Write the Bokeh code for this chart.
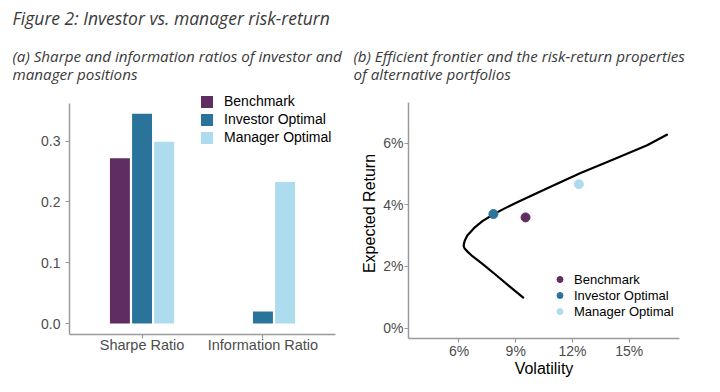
from bokeh.plotting import figure
from bokeh.layouts import row, column
from bokeh.models import (FactorRange, Range1d, FixedTicker, NumeralTickFormatter,
                          PrintfTickFormatter, Legend, LegendItem, Label, ColumnDataSource)
from bokeh.transform import dodge
from bokeh.embed import file_html
from bokeh.resources import INLINE

# ---------------- data ----------------
metrics = ["Sharpe Ratio", "Information Ratio"]
portfolios = ["Benchmark", "Investor Optimal", "Manager Optimal"]
colors = ["#5f2d61", "#2a749c", "#acdcee"]
benchmark_vals = [0.272, 0.0]
investor_vals = [0.345, 0.020]
manager_vals = [0.299, 0.233]

frontier_vol = [9.43, 8.64, 7.94, 7.24, 6.71, 6.45, 6.31, 6.25, 6.26, 6.31, 6.44, 6.79, 7.24, 7.85,
                8.47, 9.08, 10.67, 12.43, 14.19, 15.95, 17.04]
frontier_ret = [0.97, 1.37, 1.73, 2.08, 2.33, 2.48, 2.57, 2.65, 2.73, 2.84, 3.00, 3.24, 3.47, 3.70,
                3.90, 4.08, 4.54, 5.03, 5.48, 5.93, 6.29]
point_vol = [9.52, 7.82, 12.34]
point_ret = [3.59, 3.70, 4.67]

y1_ticks = [0.0, 0.1, 0.2, 0.3]
y1_lim = (-0.018, 0.362)
x2_ticks = [6, 9, 12, 15]
y2_ticks = [0, 2, 4, 6]
x2_lim = (3.33, 17.66)
y2_lim = (-0.34, 7.32)

title_text = "Figure 2: Investor vs. manager risk-return"
sub_a = ["(a) Sharpe and information ratios of investor and", "manager positions"]
sub_b = ["(b) Efficient frontier and the risk-return properties", "of alternative portfolios"]

# ---------------- style ----------------
FONT = "Liberation Sans"
TFONT = "Open Sans"
AXIS_COL = "#9a9a9a"
TICK_TXT = "#4d4d4d"
TITLE_COL = "#3a3a3a"
HEAD_H = 88  # height of the heading strip


def style_axes(p):
    p.outline_line_color = None
    p.xgrid.visible = False
    p.ygrid.visible = False
    for ax in (p.xaxis[0], p.yaxis[0]):
        ax.axis_line_color = AXIS_COL
        ax.axis_line_width = 1.5
        ax.major_tick_line_color = AXIS_COL
        ax.major_tick_line_width = 1.2
        ax.major_tick_out = 4
        ax.major_tick_in = 0
        ax.minor_tick_line_color = None
        ax.major_label_text_font = FONT
        ax.major_label_text_font_size = "14px"
        ax.major_label_text_color = TICK_TXT
        ax.axis_label_text_font = FONT
        ax.axis_label_text_font_size = "16px"
        ax.axis_label_text_font_style = "normal"
        ax.axis_label_text_color = "black"


def extend_top(lim, panel_top_px, frame_top_px, panel_bottom_px):
    # frame reaches higher than the drawn panel; axis line is bounded to lim
    per_px = (lim[1] - lim[0]) / (panel_bottom_px - panel_top_px)
    return lim[1] + (panel_top_px - frame_top_px) * per_px


# ---------------- heading strip ----------------
head = figure(width=720, height=HEAD_H, x_range=Range1d(0, 720), y_range=Range1d(HEAD_H, 0),
              x_axis_type=None, y_axis_type=None, output_backend="svg", toolbar_location=None,
              min_border=0)
head.outline_line_color = None
head.xgrid.visible = False
head.ygrid.visible = False


def add_text(x, y, text, size):
    head.add_layout(Label(x=x, y=y, text=text, text_font=TFONT, text_font_style="italic",
                          text_font_size=size, text_color=TITLE_COL,
                          text_baseline="middle", text_align="left"))


add_text(12, 17, title_text, "17.5px")
add_text(12, 55, sub_a[0], "15.2px")
add_text(12, 73, sub_a[1], "15.2px")
add_text(353, 55, sub_b[0], "15.2px")
add_text(353, 73, sub_b[1], "15.2px")

# ---------------- left panel ----------------
p1_top = extend_top(y1_lim, 103, HEAD_H, 334)
p1 = figure(width=352, height=384 - HEAD_H,
            x_range=FactorRange(factors=metrics, range_padding=0.1, range_padding_units="absolute"),
            y_range=Range1d(y1_lim[0], p1_top),
            output_backend="svg", toolbar_location=None,
            min_border_left=69, min_border_right=17, min_border_top=0, min_border_bottom=50)
style_axes(p1)
p1.yaxis.ticker = FixedTicker(ticks=y1_ticks)
p1.yaxis.formatter = NumeralTickFormatter(format="0.0")
p1.yaxis.bounds = y1_lim
p1.yaxis.major_label_standoff = 5
p1.xaxis.major_label_standoff = -2
p1.xaxis.major_label_text_font_size = "14.5px"

src1 = ColumnDataSource(dict(metric=metrics, bench=benchmark_vals, inv=investor_vals, man=manager_vals))
offsets = [-0.183, 0.0, 0.183]
cols = ["bench", "inv", "man"]
items1 = []
for name, col, c, off in zip(portfolios, cols, colors, offsets):
    r = p1.vbar(x=dodge("metric", off, range=p1.x_range), top=col, bottom=0, width=0.165,
                source=src1, fill_color=c, line_color=None)
    items1.append(LegendItem(label=name, renderers=[r]))

leg1 = Legend(items=items1, location=(130, 189), border_line_color=None,
              background_fill_alpha=0, padding=0, margin=0, spacing=2,
              glyph_width=15, glyph_height=15, label_height=15, label_standoff=10,
              label_text_font=FONT, label_text_font_size="14px", label_text_color="black")
p1.add_layout(leg1)

# ---------------- right panel ----------------
p2_top = extend_top(y2_lim, 102, HEAD_H, 338)
p2 = figure(width=368, height=300,
            x_range=Range1d(*x2_lim), y_range=Range1d(y2_lim[0], p2_top),
            x_axis_label="Volatility", y_axis_label="Expected Return",
            output_backend="svg", toolbar_location=None,
            min_border_left=56, min_border_right=41, min_border_top=0, min_border_bottom=46)
style_axes(p2)
p2.xaxis.ticker = FixedTicker(ticks=x2_ticks)
p2.yaxis.ticker = FixedTicker(ticks=y2_ticks)
p2.xaxis.formatter = PrintfTickFormatter(format="%d%%")
p2.yaxis.formatter = PrintfTickFormatter(format="%d%%")
p2.yaxis.bounds = y2_lim
p2.yaxis.major_label_standoff = 1
p2.xaxis.major_label_standoff = 0
p2.xaxis.axis_label_standoff = -2
p2.yaxis.axis_label_standoff = 2

p2.line(frontier_vol, frontier_ret, line_color="black", line_width=2.2, line_join="round")
items2 = []
for i, (name, c) in enumerate(zip(portfolios, colors)):
    r = p2.scatter(x=point_vol[i:i + 1], y=point_ret[i:i + 1], size=9, marker="circle",
                   fill_color=c, line_color=c)
    items2.append(LegendItem(label=name, renderers=[r]))

leg2 = Legend(items=items2, location=(144, 19), border_line_color=None,
              background_fill_alpha=0, padding=0, margin=0, spacing=0,
              glyph_width=15, glyph_height=16, label_height=16, label_standoff=7,
              label_text_font=FONT, label_text_font_size="13px", label_text_color="black")
p2.add_layout(leg2)

layout = column(head, row(p1, p2, spacing=0), spacing=0)
open("out.html", "w").write(file_html(layout, INLINE))
